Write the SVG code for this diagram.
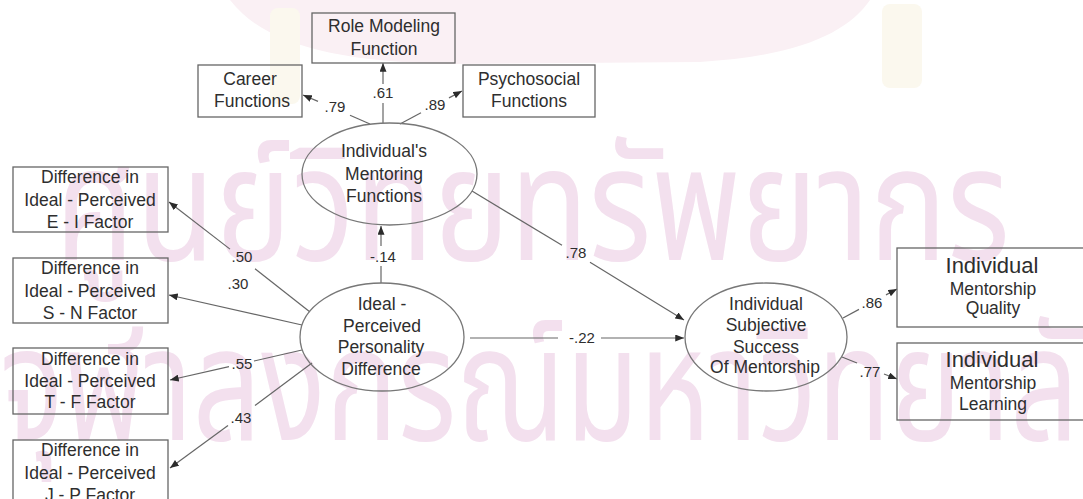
<svg xmlns="http://www.w3.org/2000/svg" width="1083" height="499" viewBox="0 0 1083 499">
  <defs>
    <marker id="arrow" viewBox="0 0 10 8" refX="10" refY="4" markerWidth="9" markerHeight="7" markerUnits="userSpaceOnUse" orient="auto">
      <path d="M0,0 L10,4 L0,8 z" fill="#2b2b2b"/>
    </marker>
  </defs>
  <style>
    .box { fill: none; stroke: #666; stroke-width: 1.3; }
    .oval { fill: none; stroke: #777; stroke-width: 1.3; }
    .t { font-family: "Liberation Sans", Arial, sans-serif; font-size: 17.5px; fill: #2e2e2e; text-anchor: middle; }
    .big { font-size: 22px; }
    .num { font-family: "Liberation Sans", Arial, sans-serif; font-size: 15px; fill: #2e2e2e; text-anchor: middle; }
    .ln { fill: none; stroke: #666; stroke-width: 1.2; }
    .wm { font-family: "Noto Sans Thai", "Noto Sans", "DejaVu Sans", sans-serif; fill: #f3e0ee; }
  </style>
  <rect width="1083" height="499" fill="#fff"/>

  <!-- background stamp -->
  <g id="stamp">
    <path d="M230,0 C262,42 330,62 450,64 L700,62 C800,56 848,32 870,0 Z" fill="#faf0f4"/>
    <rect x="270" y="8" width="30" height="96" rx="8" fill="#fbf8ee"/>
    <rect x="882" y="4" width="40" height="84" rx="8" fill="#fbf8ee"/>
    <text class="wm" x="55" y="260" font-size="160" textLength="955" lengthAdjust="spacingAndGlyphs">ศูนย์วิทยทรัพยากร</text>
    <text class="wm" x="0" y="440" font-size="160" textLength="1150" lengthAdjust="spacingAndGlyphs">จุฬาลงกรณ์มหาวิทยาลัย</text>
  </g>

  <!-- connectors -->
  <g id="connectors">
    <line class="ln" x1="383" y1="123" x2="383" y2="103"/>
    <line class="ln" x1="383" y1="84" x2="383" y2="63" marker-end="url(#arrow)"/>
    <text class="num" x="383" y="98">.61</text>

    <line class="ln" x1="370" y1="124" x2="350" y2="115.3"/>
    <line class="ln" x1="318" y1="101.4" x2="303" y2="95" marker-end="url(#arrow)"/>
    <text class="num" x="335" y="112">.79</text>

    <line class="ln" x1="400" y1="124" x2="421" y2="112.8"/>
    <line class="ln" x1="449" y1="97.9" x2="462" y2="91" marker-end="url(#arrow)"/>
    <text class="num" x="435" y="110">.89</text>

    <line class="ln" x1="381" y1="283" x2="381" y2="266"/>
    <line class="ln" x1="381" y1="246" x2="381" y2="226" marker-end="url(#arrow)"/>
    <text class="num" x="383" y="262">-.14</text>

    <line class="ln" x1="472" y1="191" x2="562" y2="245.3"/>
    <line class="ln" x1="590" y1="262.2" x2="684" y2="320" marker-end="url(#arrow)"/>
    <text class="num" x="576" y="258">.78</text>

    <line class="ln" x1="470" y1="338" x2="558" y2="338"/>
    <line class="ln" x1="601" y1="338" x2="684" y2="338" marker-end="url(#arrow)"/>
    <text class="num" x="582" y="343">-.22</text>

    <line class="ln" x1="310" y1="312" x2="255" y2="268.8"/>
    <line class="ln" x1="230" y1="249.1" x2="169" y2="202" marker-end="url(#arrow)"/>
    <text class="num" x="242" y="262">.50</text>

    <line class="ln" x1="302" y1="325" x2="169" y2="295" marker-end="url(#arrow)"/>
    <text class="num" x="238" y="289">.30</text>

    <line class="ln" x1="302" y1="350" x2="254" y2="361"/>
    <line class="ln" x1="229" y1="366.7" x2="170" y2="380" marker-end="url(#arrow)"/>
    <text class="num" x="242" y="369">.55</text>

    <line class="ln" x1="312" y1="363" x2="255" y2="405.4"/>
    <line class="ln" x1="228" y1="425.5" x2="170" y2="468" marker-end="url(#arrow)"/>
    <text class="num" x="241" y="423">.43</text>

    <line class="ln" x1="843" y1="318" x2="859" y2="309.4"/>
    <line class="ln" x1="886" y1="294.9" x2="897" y2="289" marker-end="url(#arrow)"/>
    <text class="num" x="872" y="308">.86</text>

    <line class="ln" x1="842" y1="357" x2="857" y2="363"/>
    <line class="ln" x1="884" y1="374" x2="897" y2="379" marker-end="url(#arrow)"/>
    <text class="num" x="870" y="377">.77</text>
  </g>

  <g id="role-modeling">
    <rect class="box" x="312" y="13" width="143" height="50"/>
    <text class="t" x="384" y="32">Role Modeling</text>
    <text class="t" x="384" y="55">Function</text>
  </g>
  <g id="career">
    <rect class="box" x="198" y="65" width="104" height="52"/>
    <text class="t" x="250" y="85">Career</text>
    <text class="t" x="252" y="107">Functions</text>
  </g>
  <g id="psychosocial">
    <rect class="box" x="463" y="65" width="132" height="52"/>
    <text class="t" x="529" y="85">Psychosocial</text>
    <text class="t" x="529" y="107">Functions</text>
  </g>

  <g id="mentoring-functions">
    <ellipse class="oval" cx="389.5" cy="174" rx="87.5" ry="51"/>
    <text class="t" x="384" y="157">Individual's</text>
    <text class="t" x="384" y="180">Mentoring</text>
    <text class="t" x="384" y="202">Functions</text>
  </g>

  <g id="personality-difference">
    <ellipse class="oval" cx="382" cy="337" rx="82" ry="54"/>
    <text class="t" x="382" y="310">Ideal -</text>
    <text class="t" x="382" y="332">Perceived</text>
    <text class="t" x="381" y="353">Personality</text>
    <text class="t" x="381" y="375">Difference</text>
  </g>

  <g id="subjective-success">
    <ellipse class="oval" cx="766" cy="337" rx="81" ry="54"/>
    <text class="t" x="766" y="310">Individual</text>
    <text class="t" x="766" y="331">Subjective</text>
    <text class="t" x="766" y="353">Success</text>
    <text class="t" x="765" y="373">Of Mentorship</text>
  </g>

  <g id="ei-factor">
    <rect class="box" x="13" y="167" width="155" height="65"/>
    <text class="t" x="90" y="183">Difference in</text>
    <text class="t" x="90" y="206">Ideal - Perceived</text>
    <text class="t" x="90" y="228">E - I Factor</text>
  </g>
  <g id="sn-factor">
    <rect class="box" x="13" y="258" width="155" height="65"/>
    <text class="t" x="90" y="274">Difference in</text>
    <text class="t" x="90" y="297">Ideal - Perceived</text>
    <text class="t" x="90" y="319">S - N Factor</text>
  </g>
  <g id="tf-factor">
    <rect class="box" x="13" y="348" width="155" height="66"/>
    <text class="t" x="90" y="365">Difference in</text>
    <text class="t" x="90" y="387">Ideal - Perceived</text>
    <text class="t" x="90" y="408">T - F Factor</text>
  </g>
  <g id="jp-factor">
    <rect class="box" x="13" y="440" width="155" height="70"/>
    <text class="t" x="90" y="456">Difference in</text>
    <text class="t" x="90" y="479">Ideal - Perceived</text>
    <text class="t" x="90" y="501">J - P Factor</text>
  </g>

  <g id="mentorship-quality">
    <rect class="box" x="897" y="248" width="200" height="79"/>
    <text class="t big" x="992" y="273">Individual</text>
    <text class="t" x="993" y="295">Mentorship</text>
    <text class="t" x="993" y="314">Quality</text>
  </g>
  <g id="mentorship-learning">
    <rect class="box" x="897" y="343" width="200" height="77"/>
    <text class="t big" x="992" y="367">Individual</text>
    <text class="t" x="993" y="389">Mentorship</text>
    <text class="t" x="993" y="410">Learning</text>
  </g>
</svg>
